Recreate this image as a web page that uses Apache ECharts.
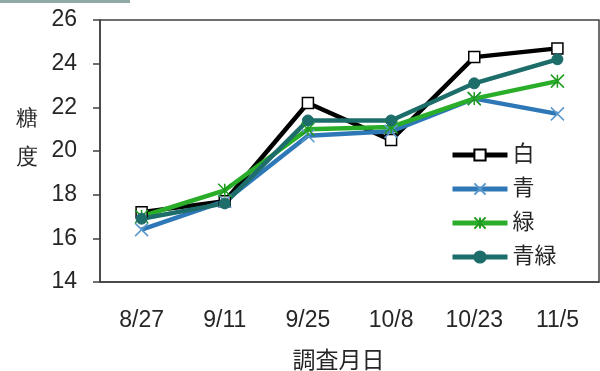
<!DOCTYPE html>
<html><head><meta charset="utf-8">
<script src="https://cdn.jsdelivr.net/npm/echarts@6/dist/echarts.min.js"></script>
<style>html,body{margin:0;padding:0;background:#fff}#c{width:600px;height:371px}</style>
</head><body><div id="c"></div>
<script>
const categories = ['8/27', '9/11', '9/25', '10/8', '10/23', '11/5'];
const seriesNames = ['白', '青', '緑', '青緑'];
const whiteVals = [17.2, 17.7, 22.2, 20.5, 24.3, 24.7];
const blueVals = [16.4, 17.7, 20.7, 20.9, 22.4, 21.7];
const greenVals = [17.0, 18.2, 21.0, 21.1, 22.4, 23.2];
const tealVals = [16.9, 17.6, 21.4, 21.4, 23.1, 24.2];
const yTicks = [14, 16, 18, 20, 22, 24, 26];
const yName = '糖\n度';
const xName = '調査月日';

const FONT = '"Liberation Sans", "Noto Sans CJK JP", sans-serif';
const TXT = '#262626';
const xSym = 'path://M0,0L10,10M10,0L0,10';
const starSym = 'path://M5,0L5,10M0,0L10,10M10,0L0,10';

const chart = echarts.init(document.getElementById('c'), null, {renderer: 'canvas'});
chart.setOption({
  animation: false,
  backgroundColor: '#fff',
  textStyle: {fontFamily: FONT},
  graphic: [
    {type: 'rect', shape: {x: 0, y: 0, width: 130, height: 3}, style: {fill: '#8fa9a9'}},
    {type: 'text', left: 16, top: 99, style: {text: yName, fontSize: 22, lineHeight: 39, fill: TXT, font: '22px ' + FONT}}
  ],
  grid: {left: 100, right: 1, top: 20, bottom: 89, outerBoundsMode: 'none', containLabel: false,
         show: true, borderColor: '#404040', borderWidth: 1.5, backgroundColor: 'transparent'},
  legend: {
    orient: 'vertical', left: 450, top: 144, padding: 0, itemWidth: 55, itemHeight: 14, itemGap: 12,
    data: seriesNames,
    lineStyle: {width: 5},
    textStyle: {fontSize: 22, color: TXT, fontFamily: FONT}
  },
  xAxis: {
    type: 'category', data: categories, boundaryGap: true,
    name: xName, nameLocation: 'middle', nameGap: 68,
    nameTextStyle: {fontSize: 23, color: TXT, padding: [0, 22, 0, 0]},
    axisLine: {lineStyle: {color: '#404040', width: 1.5}},
    axisTick: {alignWithLabel: true, length: 6, lineStyle: {color: '#404040', width: 1.5}},
    axisLabel: {fontSize: 23, color: TXT, margin: 27}
  },
  yAxis: {
    type: 'value', min: yTicks[0], max: yTicks[yTicks.length - 1], interval: 2,
    splitLine: {show: false},
    axisLine: {show: true, lineStyle: {color: '#404040', width: 1.5}},
    axisTick: {show: true, length: 7, lineStyle: {color: '#404040', width: 1.5}},
    axisLabel: {fontSize: 23, color: TXT, margin: 23}
  },
  series: [
    {name: seriesNames[0], type: 'line', data: whiteVals, symbol: 'rect', symbolSize: 11,
     lineStyle: {color: '#000', width: 4.5}, itemStyle: {color: '#fff', borderColor: '#000', borderWidth: 1.5}},
    {name: seriesNames[1], type: 'line', data: blueVals, symbol: xSym, symbolSize: 13,
     lineStyle: {color: '#2e78b7', width: 4.5}, itemStyle: {color: '#2e78b7', borderColor: '#5a98cc', borderWidth: 1.5}},
    {name: seriesNames[2], type: 'line', data: greenVals, symbol: starSym, symbolSize: 13,
     lineStyle: {color: '#2aae2a', width: 4.5}, itemStyle: {color: '#2aae2a', borderColor: '#1f9a1f', borderWidth: 1.5}},
    {name: seriesNames[3], type: 'line', data: tealVals, symbol: 'circle', symbolSize: 11,
     lineStyle: {color: '#1d6d6b', width: 4.5}, itemStyle: {color: '#1d6d6b', borderColor: '#1d6d6b', borderWidth: 1}}
  ]
});
</script></body></html>
